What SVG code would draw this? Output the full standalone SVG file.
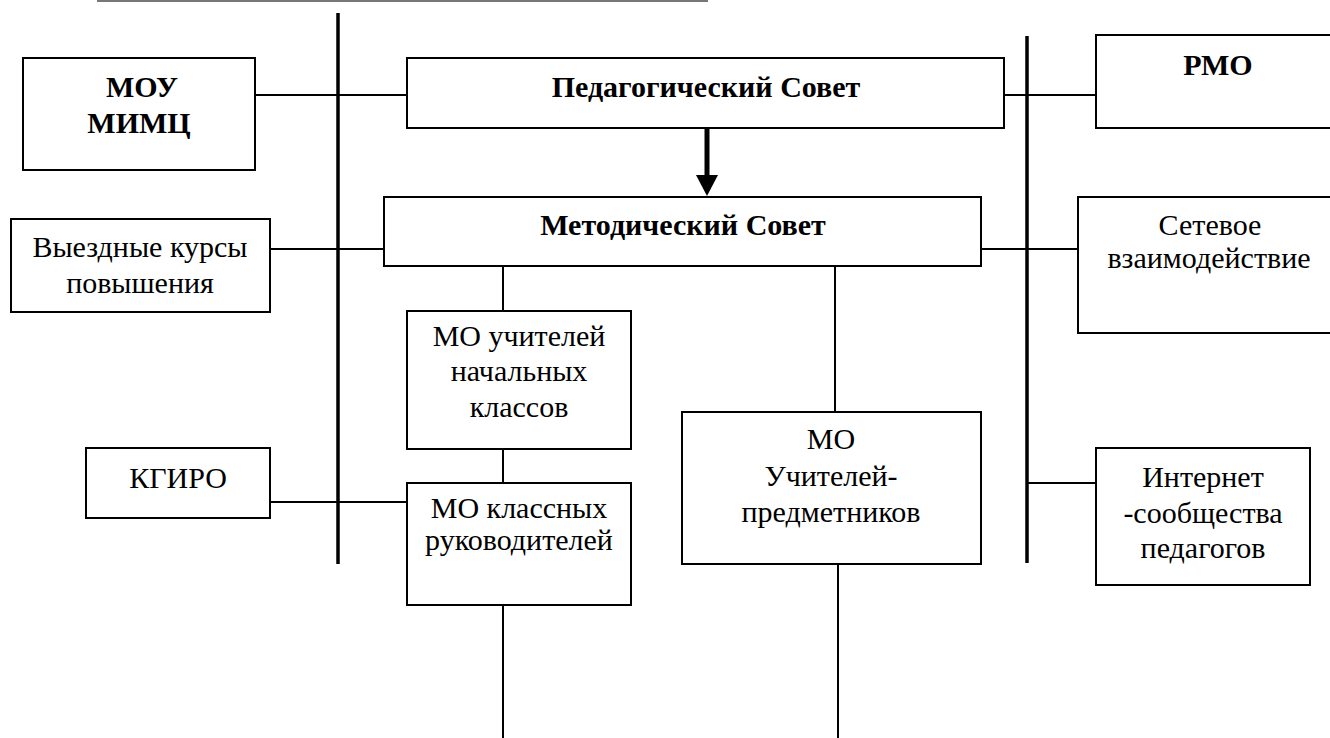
<svg xmlns="http://www.w3.org/2000/svg" width="1330" height="738" viewBox="0 0 1330 738">
<style>
.box{fill:#fff;stroke:#000;stroke-width:2}
.c{stroke:#000;stroke-width:2;fill:none}
.bar{stroke:#000;stroke-width:3.5;fill:none}
</style>
<rect width="1330" height="738" fill="#fff"/>
<g id="connectors">
<line x1="97" y1="1" x2="708" y2="1" stroke="#777" stroke-width="2"/>
<line class="bar" x1="338" y1="13" x2="338" y2="564"/>
<line class="bar" x1="1027" y1="36" x2="1027" y2="563"/>
<line class="c" x1="255" y1="95" x2="407" y2="95"/>
<line class="c" x1="1004" y1="95" x2="1096" y2="95"/>
<line class="c" x1="270" y1="249" x2="384" y2="249"/>
<line class="c" x1="981" y1="249" x2="1078" y2="249"/>
<line class="c" x1="270" y1="502" x2="407" y2="502"/>
<line class="c" x1="1027" y1="483" x2="1096" y2="483"/>
<line class="c" x1="503" y1="266" x2="503" y2="311"/>
<line class="c" x1="503" y1="449" x2="503" y2="483"/>
<line class="c" x1="503" y1="605" x2="503" y2="738"/>
<line class="c" x1="835" y1="266" x2="835" y2="412"/>
<line class="c" x1="838" y1="564" x2="838" y2="738"/>
<line x1="707" y1="128" x2="707" y2="177" stroke="#000" stroke-width="5"/>
<polygon points="696,175 718,175 707,196" fill="#000"/>
</g>
<g id="mou">
<rect class="box" x="23" y="58" width="232" height="112"/>
<text font-family="Liberation Serif" font-size="30" text-anchor="middle" font-weight="bold" x="142" y="97">МОУ</text>
<text font-family="Liberation Serif" font-size="30" text-anchor="middle" font-weight="bold" x="139" y="133">МИМЦ</text>
</g>
<g id="pedsovet">
<rect class="box" x="407" y="58" width="597" height="70"/>
<text font-family="Liberation Serif" font-size="30" text-anchor="middle" font-weight="bold" x="706" y="97">Педагогический Совет</text>
</g>
<g id="rmo">
<rect class="box" x="1096" y="35" width="250" height="93"/>
<text font-family="Liberation Serif" font-size="30" text-anchor="middle" font-weight="bold" x="1218" y="75">РМО</text>
</g>
<g id="metodsovet">
<rect class="box" x="384" y="197" width="597" height="69"/>
<text font-family="Liberation Serif" font-size="30" text-anchor="middle" font-weight="bold" x="683" y="235">Методический Совет</text>
</g>
<g id="kursy">
<rect class="box" x="11" y="219" width="259" height="93"/>
<text font-family="Liberation Serif" font-size="30" text-anchor="middle" x="140" y="257">Выездные курсы</text>
<text font-family="Liberation Serif" font-size="30" text-anchor="middle" x="140" y="293">повышения</text>
</g>
<g id="setevoe">
<rect class="box" x="1078" y="197" width="270" height="136"/>
<text font-family="Liberation Serif" font-size="30" text-anchor="middle" x="1210" y="235">Сетевое</text>
<text font-family="Liberation Serif" font-size="30" text-anchor="middle" x="1209" y="268">взаимодействие</text>
</g>
<g id="mo-nach">
<rect class="box" x="407" y="311" width="224" height="138"/>
<text font-family="Liberation Serif" font-size="30" text-anchor="middle" x="519" y="346">МО учителей</text>
<text font-family="Liberation Serif" font-size="30" text-anchor="middle" x="519" y="381">начальных</text>
<text font-family="Liberation Serif" font-size="30" text-anchor="middle" x="519" y="417">классов</text>
</g>
<g id="kgiro">
<rect class="box" x="86" y="448" width="184" height="70"/>
<text font-family="Liberation Serif" font-size="30" text-anchor="middle" x="178" y="488">КГИРО</text>
</g>
<g id="mo-klass">
<rect class="box" x="407" y="483" width="224" height="122"/>
<text font-family="Liberation Serif" font-size="30" text-anchor="middle" x="519" y="518">МО классных</text>
<text font-family="Liberation Serif" font-size="30" text-anchor="middle" x="519" y="550">руководителей</text>
</g>
<g id="mo-predm">
<rect class="box" x="682" y="412" width="299" height="152"/>
<text font-family="Liberation Serif" font-size="30" text-anchor="middle" x="831" y="449">МО</text>
<text font-family="Liberation Serif" font-size="30" text-anchor="middle" x="831" y="486">Учителей-</text>
<text font-family="Liberation Serif" font-size="30" text-anchor="middle" x="831" y="522">предметников</text>
</g>
<g id="internet">
<rect class="box" x="1096" y="448" width="214" height="137"/>
<text font-family="Liberation Serif" font-size="30" text-anchor="middle" x="1203" y="487">Интернет</text>
<text font-family="Liberation Serif" font-size="30" text-anchor="middle" x="1203" y="523">-сообщества</text>
<text font-family="Liberation Serif" font-size="30" text-anchor="middle" x="1203" y="558">педагогов</text>
</g>
</svg>
